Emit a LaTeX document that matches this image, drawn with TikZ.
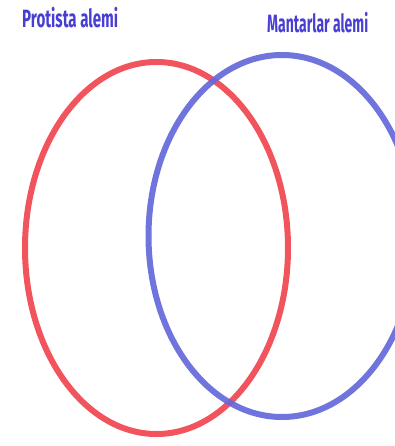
\documentclass[tikz,border=0pt]{standalone}
\usepackage{fontspec}
\setmainfont{Fira Sans}
\usetikzlibrary{shapes.geometric}
\definecolor{ringred}{RGB}{242,84,94}
\definecolor{ringblue}{RGB}{100,104,218}
\definecolor{labelblue}{RGB}{72,62,210}
\tikzset{
  ring/.style={ellipse, draw, line width=6pt, inner sep=0pt, outer sep=0pt},
  setlabel/.style={anchor=base west, inner sep=0pt, text=labelblue, font=\bfseries\fontsize{25}{25}\selectfont}
}
\begin{document}
\begin{tikzpicture}[x=1pt,y=1pt]
\useasboundingbox (0,0) rectangle (395,-446);
\begin{scope}
\clip (0,0) rectangle (395,-446);
\node[ring, draw=ringred, minimum width=263pt, minimum height=372pt] (protista) at (156.5,-248) {};
\node[ring, draw=ringblue, draw opacity=0.92, minimum width=267pt, minimum height=362pt] (mantar) at (282,-236) {};
\end{scope}
\node[setlabel] (lprotista) at (22,-28) {\resizebox{96pt}{\height}{Protista alemi}};
\node[setlabel] (lmantar) at (267,-33) {\resizebox{101pt}{\height}{Mantarlar alemi}};
\end{tikzpicture}
\end{document}
